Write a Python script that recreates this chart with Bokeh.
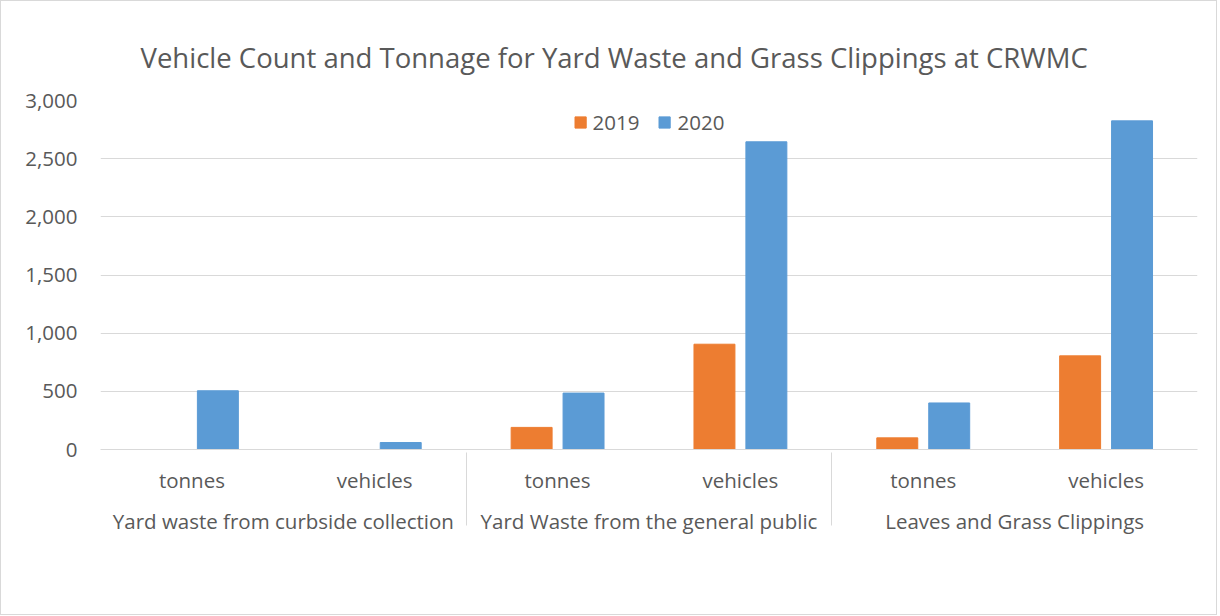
from bokeh.plotting import figure
from bokeh.models import (FactorRange, ColumnDataSource, NumeralTickFormatter, FixedTicker,
                          Legend, LegendItem)
from bokeh.transform import dodge
from bokeh.embed import file_html
from bokeh.resources import INLINE

groups = ["Yard waste from curbside collection", "Yard Waste from the general public",
          "Leaves and Grass Clippings"]
subs = ["tonnes", "vehicles"]
values_2019 = [0, 0, 190, 905, 100, 805]
values_2020 = [505, 60, 485, 2645, 400, 2825]
y_ticks = [0, 500, 1000, 1500, 2000, 2500, 3000]

TXT = "#595959"
GRID = "#d9d9d9"
FONT = "Open Sans"
C2019 = "#ED7D31"
C2020 = "#5B9BD5"

factors = [(g, s) for g in groups for s in subs]
src = ColumnDataSource(dict(x=factors, y2019=values_2019, y2020=values_2020))

p = figure(frame_width=1097, frame_height=349, output_backend="svg", toolbar_location=None,
           x_range=FactorRange(*factors, group_padding=0, factor_padding=0, range_padding=0),
           y_range=(0, 3000),
           title="Vehicle Count and Tonnage for Yard Waste and Grass Clippings at CRWMC")
p.min_border_left = 99
p.min_border_right = 19
p.min_border_top = 99
p.min_border_bottom = 165
p.outline_line_color = None
p.styles = {"border": "1px solid #d9d9d9"}

p.title.align = "left"
p.title.offset = 40
p.title.text_font = FONT
p.title.text_font_size = "27.5px"
p.title.text_font_style = "normal"
p.title.text_color = TXT
p.title.standoff = 50

r1 = p.vbar(x=dodge("x", -0.142, range=p.x_range), top="y2019", width=0.224, source=src,
            fill_color=C2019, line_color=C2019)
r2 = p.vbar(x=dodge("x", 0.142, range=p.x_range), top="y2020", width=0.224, source=src,
            fill_color=C2020, line_color=C2020)

p.yaxis.ticker = FixedTicker(ticks=y_ticks)
p.yaxis.formatter = NumeralTickFormatter(format="0,0")
p.yaxis.axis_line_color = None
p.yaxis.major_tick_line_color = None
p.yaxis.minor_tick_line_color = None
p.yaxis.major_label_text_font = FONT
p.yaxis.major_label_text_font_size = "20.5px"
p.yaxis.major_label_text_color = TXT
p.yaxis.major_label_standoff = 17
p.ygrid.ticker = FixedTicker(ticks=y_ticks)
p.ygrid.grid_line_color = GRID
p.xgrid.grid_line_color = None

xa = p.xaxis[0]
xa.axis_line_color = GRID
xa.major_tick_line_color = None
xa.minor_tick_line_color = None
xa.major_label_text_font = FONT
xa.major_label_text_font_size = "20.5px"
xa.major_label_text_color = TXT
xa.major_label_standoff = 10
xa.group_text_font = FONT
xa.group_text_font_size = "20.5px"
xa.group_text_font_style = "normal"
xa.group_text_color = TXT
xa.separator_line_color = GRID
xa.separator_line_width = 1

legend = Legend(items=[LegendItem(label="2019", renderers=[r1]),
                       LegendItem(label="2020", renderers=[r2])],
                orientation="horizontal", location="top_center")
legend.label_text_font = FONT
legend.label_text_font_size = "20.5px"
legend.label_text_color = TXT
legend.glyph_width = 14
legend.glyph_height = 14
legend.border_line_color = None
legend.background_fill_alpha = 0
legend.spacing = 18
legend.label_standoff = 6
legend.padding = 4
legend.margin = 8
p.add_layout(legend, "center")

open("out.html", "w").write(file_html(p, INLINE))
